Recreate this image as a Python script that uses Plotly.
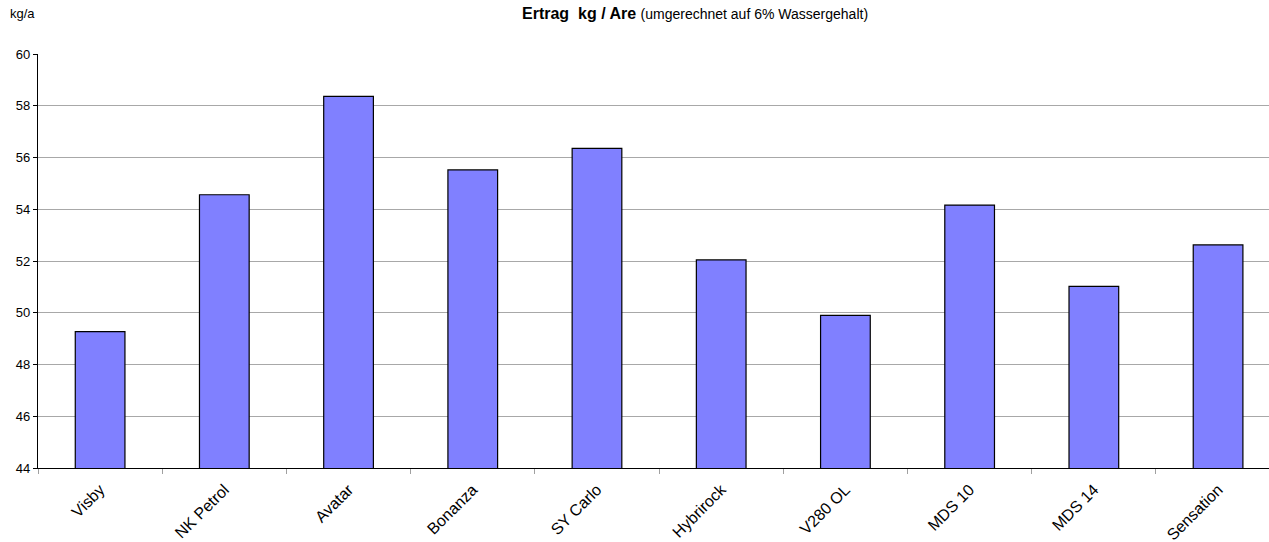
import plotly.graph_objects as go

categories = ["Visby", "NK Petrol", "Avatar", "Bonanza", "SY Carlo",
              "Hybrirock", "V280 OL", "MDS 10", "MDS 14", "Sensation"]
values = [49.27, 54.56, 58.36, 55.52, 56.35, 52.04, 49.90, 54.16, 51.02, 52.62]
y_ticks = [44, 46, 48, 50, 52, 54, 56, 58, 60]

FONT = "Liberation Sans, Arial, sans-serif"

fig = go.Figure()
fig.add_trace(go.Bar(
    x=categories, y=values,
    marker=dict(color="#8080ff", line=dict(color="#000000", width=1.2)),
    width=0.4,
))

fig.update_layout(
    width=1269, height=542,
    margin=dict(l=38, r=0, t=54, b=74),
    paper_bgcolor="white", plot_bgcolor="white",
    showlegend=False,
    font=dict(family=FONT, size=13, color="#000000"),
    xaxis=dict(
        type="category",
        range=[-0.5, 9.41],
        showline=True, linecolor="#000000", linewidth=1.2,
        showgrid=False,
        tickson="boundaries", ticks="outside", ticklen=5, tickcolor="#a0a0a0", tickwidth=1,
        tickangle=-45,
        ticklabelstandoff=5,
        tickfont=dict(family=FONT, size=16, color="#000000"),
        automargin=False,
    ),
    yaxis=dict(
        range=[44, 60],
        tickvals=y_ticks,
        showline=True, linecolor="#000000", linewidth=1.2,
        showgrid=True, gridcolor="#a8a8a8", gridwidth=1,
        ticks="outside", ticklen=4, tickcolor="#000000",
        ticklabelstandoff=0,
        tickfont=dict(family=FONT, size=13, color="#000000"),
        zeroline=False,
        automargin=False,
    ),
    annotations=[
        dict(text="<b>Ertrag\u00a0\u00a0kg / Are</b> <span style='font-size:14px'>(umgerechnet auf 6% Wassergehalt)</span>",
             xref="paper", yref="paper", x=0.534, y=1, yshift=41, xanchor="center", yanchor="middle",
             showarrow=False, font=dict(family=FONT, size=16, color="#000000")),
        dict(text="kg/a", xref="paper", yref="paper", x=-38/1231, xshift=8, y=1, yshift=41,
             xanchor="left", yanchor="middle", showarrow=False,
             font=dict(family=FONT, size=13, color="#000000")),
    ],
)

fig.write_html("out.html", config={"displayModeBar": False},
               post_script="document.body.style.margin='0px';")
